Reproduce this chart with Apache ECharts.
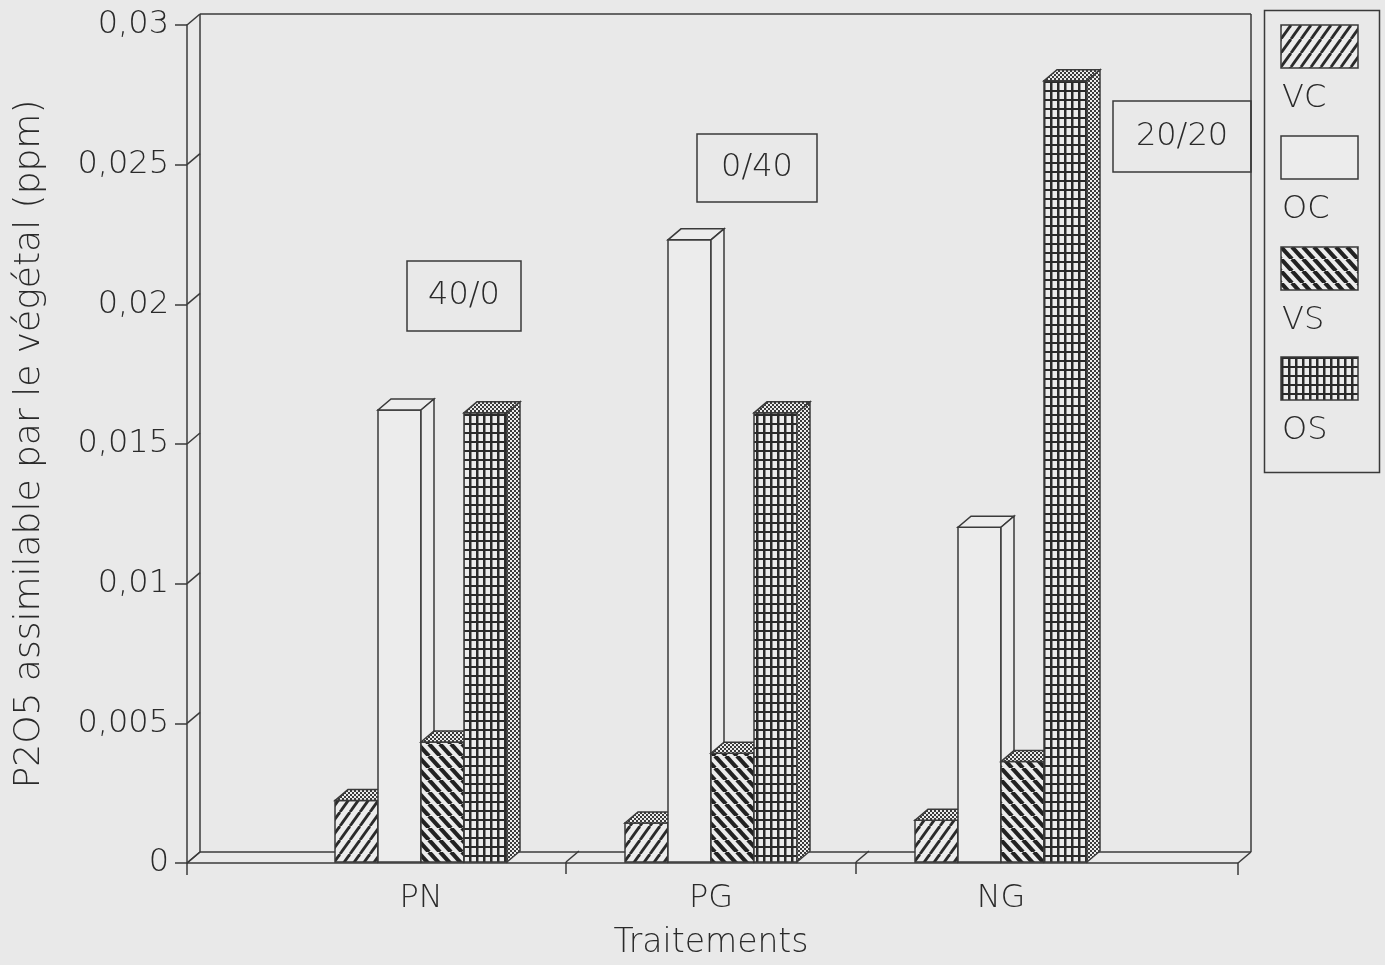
<!DOCTYPE html>
<html>
<head>
<meta charset="utf-8">
<script src="https://cdn.jsdelivr.net/npm/echarts@6/dist/echarts.min.js"></script>
<style>
html,body{margin:0;padding:0;background:#e9e9e9;}
#chart{width:1385px;height:965px;}
</style>
</head>
<body>
<div id="chart"></div>
<script>
// ---------- data ----------
const categories = ['PN', 'PG', 'NG'];
const seriesNames = ['VC', 'OC', 'VS', 'OS'];
const VC = [0.0022, 0.0014, 0.0015];
const OC = [0.0162, 0.0223, 0.0120];
const VS = [0.0043, 0.0039, 0.0036];
const OS = [0.0161, 0.0161, 0.0280];
const Y_MIN = 0, Y_MAX = 0.03, Y_INTERVAL = 0.005;
const annotations = ['40/0', '0/40', '20/20'];
const yTitle = 'P2O5 assimilable par le végétal (ppm)';
const xTitle = 'Traitements';

// ---------- styling ----------
const BG = '#e9e9e9';
const PAPER = '#ececec';
const INK = '#3a3a3a';
const TXT = '#2a2a2a';
const LW = 1.5;
const FONT = 'DejaVu Sans';
const FW = 300;
const FS = 32;
const DX = 13, DY = -11;          // 3D depth offset
const BAR_FRAC = 43 / 290;        // bar width as fraction of category band

function makeCanvas(w, h, draw) {
  const c = document.createElement('canvas');
  c.width = w; c.height = h;
  const g = c.getContext('2d');
  g.fillStyle = PAPER; g.fillRect(0, 0, w, h);
  draw(g, w, h);
  return c;
}
function pat(c) { return { image: c, repeat: 'repeat' }; }

const hatchFwd = makeCanvas(10, 14, (g, w, h) => {
  g.strokeStyle = '#2a2a2a'; g.lineWidth = 2.8;
  for (let k = -1; k <= 1; k++) { g.beginPath(); g.moveTo(k * w, h); g.lineTo(k * w + w, 0); g.stroke(); }
});
const hatchBack = makeCanvas(11, 12, (g, w, h) => {
  g.strokeStyle = '#222'; g.lineWidth = 4.2;
  for (let k = -1; k <= 1; k++) { g.beginPath(); g.moveTo(k * w, 0); g.lineTo(k * w + w, h); g.stroke(); }
});
const gridPat = makeCanvas(7, 9, (g, w, h) => {
  g.fillStyle = '#2a2a2a';
  g.fillRect(0, 0, 2.5, h);
  g.fillRect(0, 0, w, 2);
});
const stipple = makeCanvas(4, 4, (g) => {
  g.fillStyle = '#3a3a3a';
  g.fillRect(0, 0, 2, 2); g.fillRect(2, 2, 2, 2);
});

const frontFill = [pat(hatchFwd), PAPER, pat(hatchBack), pat(gridPat)];
const topFill = [pat(stipple), PAPER, pat(stipple), pat(stipple)];
const sideFill = [pat(stipple), PAPER, pat(stipple), pat(stipple)];
const seriesValues = [VC, OC, VS, OS];

function barRender(si) {
  return function (params, api) {
    const ci = api.value(0);
    const v = api.value(1);
    const top = api.coord([ci, v]);
    const base = api.coord([ci, 0]);
    const band = api.size([1, 0])[0];
    const bw = band * BAR_FRAC;
    const x0 = top[0] - 2 * bw + si * bw;
    const yT = top[1], yB = base[1];
    return {
      type: 'group',
      children: [
        { type: 'rect', shape: { x: x0, y: yT, width: bw, height: yB - yT },
          style: { fill: frontFill[si], stroke: INK, lineWidth: LW } },
        { type: 'polygon', shape: { points: [[x0, yT], [x0 + bw, yT], [x0 + bw + DX, yT + DY], [x0 + DX, yT + DY]] },
          style: { fill: topFill[si], stroke: INK, lineWidth: LW } },
        { type: 'polygon', shape: { points: [[x0 + bw, yT], [x0 + bw + DX, yT + DY], [x0 + bw + DX, yB + DY], [x0 + bw, yB]] },
          style: { fill: sideFill[si], stroke: INK, lineWidth: LW } }
      ]
    };
  };
}

function line(x1, y1, x2, y2) {
  return { type: 'line', shape: { x1, y1, x2, y2 }, style: { stroke: INK, lineWidth: LW } };
}

function frameRender(params, api) {
  const cs = params.coordSys;
  const L = cs.x, R = cs.x + cs.width, T = cs.y, B = cs.y + cs.height;
  const ch = [];
  ch.push(line(L, B, R, B));
  ch.push(line(L + DX, B + DY, R + DX, B + DY));
  ch.push(line(L + DX, B + DY, L + DX, T + DY));
  ch.push(line(L + DX, T + DY, R + DX, T + DY));
  ch.push(line(R + DX, T + DY, R + DX, B + DY));
  for (let v = Y_MIN; v <= Y_MAX + 1e-9; v += Y_INTERVAL) {
    const p = api.coord([0, v]);
    ch.push(line(L, p[1], L + DX, p[1] + DY));
  }
  [L, R].forEach(x => { ch.push(line(x, B, x + DX, B + DY)); ch.push(line(x, B, x, B + 12)); });
  return { type: 'group', children: ch };
}

function floorTickRender(params, api) {
  const ci = api.value(0);
  if (ci === 0) return null;
  const c = api.coord([ci, 0]);
  const band = api.size([1, 0])[0];
  const x = c[0] - band / 2, B = c[1];
  return { type: 'group', children: [line(x, B, x + DX, B + DY), line(x, B, x, B + 12)] };
}

const chart = echarts.init(document.getElementById('chart'), null, { renderer: 'canvas' });

const series = [
  { type: 'custom', name: 'frame', xAxisIndex: 0, yAxisIndex: 0, z: 1, silent: true,
    renderItem: frameRender, data: [[0, 0]] },
  { type: 'custom', name: 'floorTicks', xAxisIndex: 1, yAxisIndex: 1, z: 1, silent: true,
    renderItem: floorTickRender, data: categories.map(c => [c, 0]), encode: { x: 0, y: 1 } }
];
seriesNames.forEach((n, si) => {
  series.push({
    type: 'custom', name: n, xAxisIndex: 1, yAxisIndex: 1, z: 2,
    renderItem: barRender(si),
    encode: { x: 0, y: 1 },
    data: categories.map((c, i) => [c, seriesValues[si][i]])
  });
});

// legend + annotations as graphics
const textFont = FW + ' 32px "DejaVu Sans"';
const graphic = [];
graphic.push({ type: 'rect', left: 1262, top: 8, shape: { width: 115, height: 462 },
  style: { fill: 'none', stroke: INK, lineWidth: LW } });
const legendTop = [25, 136, 247, 357];
const legendFill = [pat(hatchFwd), PAPER, pat(hatchBack), pat(gridPat)];
seriesNames.forEach((n, i) => {
  graphic.push({ type: 'rect', x: 1281, y: legendTop[i], shape: { width: 77, height: 43 },
    style: { fill: legendFill[i], stroke: INK, lineWidth: LW } });
  graphic.push({ type: 'text', x: 1282, y: legendTop[i] + 74,
    style: { text: n, font: textFont, fill: TXT, verticalAlign: 'middle', align: 'left' } });
});
const annBoxes = [[407, 261, 114, 70], [697, 134, 120, 68], [1113, 101, 138, 71]];
annotations.forEach((t, i) => {
  const b = annBoxes[i];
  graphic.push({ type: 'rect', x: b[0], y: b[1], shape: { width: b[2], height: b[3] },
    style: { fill: 'none', stroke: INK, lineWidth: LW } });
  graphic.push({ type: 'text', x: b[0] + b[2] / 2, y: b[1] + b[3] / 2,
    style: { text: t, font: textFont, fill: TXT, align: 'center', verticalAlign: 'middle' } });
});

chart.setOption({
  backgroundColor: BG,
  animation: false,
  textStyle: { fontFamily: FONT, fontWeight: FW },
  grid: [
    { left: 187, top: 25, width: 1051, height: 838 },
    { left: 276, top: 25, width: 870, height: 838 }
  ],
  xAxis: [
    { gridIndex: 0, type: 'value', min: 0, max: 1, show: false },
    { gridIndex: 1, type: 'category', data: categories,
      axisLine: { show: false }, axisTick: { show: false }, splitLine: { show: false },
      axisLabel: { fontSize: FS, color: TXT, margin: 21, fontFamily: FONT, fontWeight: FW },
      name: xTitle, nameLocation: 'middle', nameGap: 65,
      nameTextStyle: { fontSize: 33, color: TXT, fontFamily: FONT, fontWeight: FW } }
  ],
  yAxis: [
    { gridIndex: 0, type: 'value', min: Y_MIN, max: Y_MAX, interval: Y_INTERVAL,
      axisLine: { show: true, lineStyle: { color: INK, width: LW } },
      axisTick: { show: true, inside: false, length: 12, lineStyle: { color: INK, width: LW } },
      splitLine: { show: false },
      axisLabel: { fontSize: FS, color: TXT, margin: 18, fontFamily: FONT, fontWeight: FW,
        formatter: v => String(+v.toFixed(4)).replace('.', ',') },
      name: yTitle, nameLocation: 'middle', nameGap: 139, nameRotate: 90,
      nameTextStyle: { fontSize: 36, color: TXT, fontFamily: FONT, fontWeight: FW } },
    { gridIndex: 1, type: 'value', min: Y_MIN, max: Y_MAX, interval: Y_INTERVAL, show: false }
  ],
  legend: { show: false },
  graphic: graphic,
  series: series
});
</script>
</body>
</html>
